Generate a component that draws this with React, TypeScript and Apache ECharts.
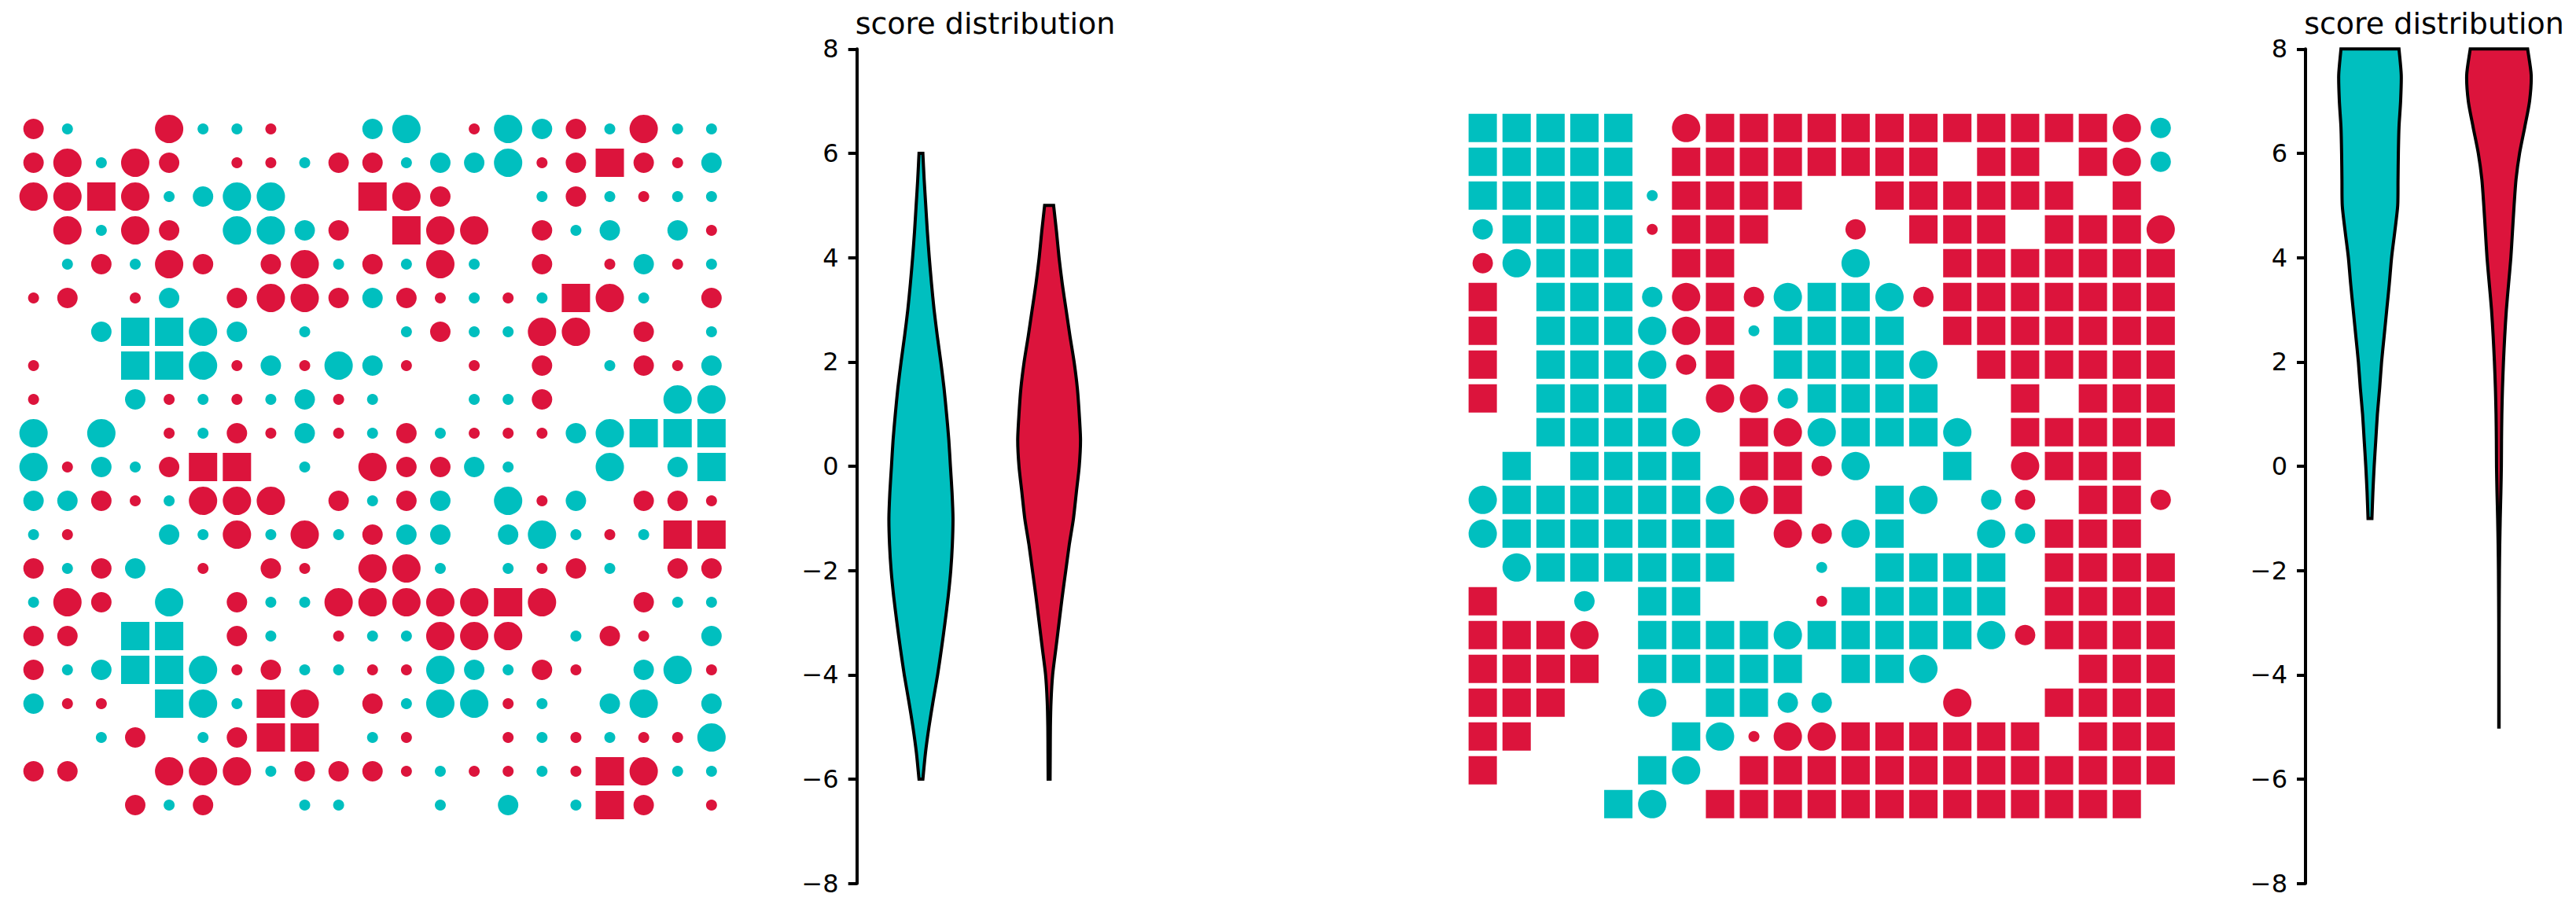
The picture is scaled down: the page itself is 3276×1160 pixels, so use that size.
import React, { useEffect, useRef } from 'react';
import * as echarts from 'echarts';

const TEAL = '#00BFBF';
const CRIMSON = '#DC143C';
const FONT = '"DejaVu Sans", sans-serif';

// Cell codes: '.' empty
// teal:    a = small circle, b = medium circle, c = large circle, T = square
// crimson: x = small circle, y = medium circle, z = large circle, R = square
const leftGrid = [
  'ya..zaax..bc.xcbyazaa',
  'yzazy.xxayyabbcxyRyxb',
  'zzRzabcc..Rzy..ayaxaa',
  '.zazy.ccby.Rzz.yab.bx',
  '.ayazy.yzayaza.y.xbxa',
  'xy.xb.yzzybyxaxaRza.y',
  '..bTTcb.a..ayaazz.y.a',
  'x..TTcxbxcbx.x.y.ayxb',
  'x..bxaxabxa..aay...cc',
  'c.c.xayxbxayaxxxbcTTT',
  'cxbayRR.a.zyyba..c.bT',
  'bbyxazzz.yayb.cxb.yyx',
  'ax..bazazaybb.bcaxaRR',
  'yayb.x.yx.zza.axya.yy',
  'azy.c.yaazzzzzRz..yaa',
  'yy.TT.ya.xaazzz.ayx.b',
  'yabTTcxyaaxxcbayx.bcx',
  'bxx.TcaRz.yaccxa.bc.b',
  '..ay.ayRR.ax..xaxaxxc',
  'yy..zzzayyyxaxxaxRzaa',
  '...yay..aa..a.b.aRy.x',
];

const rightGrid = [
  'TTTTT.zRRRRRRRRRRRRzb',
  'TTTTT.RRRRRRRR.RR.Rzb',
  'TTTTTaRRRR..RRRRRR.R.',
  'bTTTTxRRR..y.RRR.RRRz',
  'ycTTT.RR...c..RRRRRRR',
  'R.TTTbzRycTTcyRRRRRRR',
  'R.TTTczRaTTTT.RRRRRRR',
  'R.TTTcyR.TTTTc.RRRRRR',
  'R.TTTT.zzbTTTT..R.RRR',
  '..TTTTc.RzcTTTc.RRRRR',
  '.T.TTTT.RRyc..T.zRRR.',
  'cTTTTTTczR..Tc.by.RRy',
  'cTTTTTTT.zycT..cbRRR.',
  '.cTTTTTT..a.TTTT.RRRR',
  'R..b.TT...xTTTTT.RRRR',
  'RRRz.TTTTcTTTTTcyRRRR',
  'RRRR.TTTTT.TTc....RRR',
  'RRR..c.TTbb...z..RRRR',
  'RR....TcxzzRRRRRR.RRR',
  'R....Tc.RRRRRRRRRRRRR',
  '....Tc.RRRRRRRRRRRRR.',
];

const tealCodes = 'abcT';
const crimsonCodes = 'xyzR';
const markerSize: Record<string, number> = { a: 14, b: 26, c: 36, T: 36, x: 14, y: 26, z: 36, R: 36 };

// Violin outlines: [score, relative half-width (1 = widest)]
const leftTealViolin = [
  [6, 0.06], [5.5, 0.1], [5, 0.15], [4.5, 0.2], [4, 0.26], [3.5, 0.33], [3, 0.41], [2.5, 0.51],
  [2, 0.62], [1.5, 0.72], [1, 0.8], [0.5, 0.87], [0, 0.92], [-0.5, 0.97], [-1, 1.0], [-1.5, 0.98],
  [-2, 0.93], [-2.5, 0.85], [-3, 0.75], [-3.5, 0.64], [-4, 0.52], [-4.5, 0.38], [-5, 0.25],
  [-5.5, 0.14], [-6, 0.06],
];
const leftCrimsonViolin = [
  [5, 0.14], [4.5, 0.23], [4, 0.31], [3.5, 0.41], [3, 0.53], [2.5, 0.65], [2, 0.78], [1.5, 0.88],
  [1, 0.94], [0.5, 0.98], [0, 0.94], [-0.5, 0.85], [-1, 0.76], [-1.5, 0.63], [-2, 0.52],
  [-2.5, 0.41], [-3, 0.31], [-3.5, 0.21], [-4, 0.11], [-4.5, 0.06], [-5, 0.04], [-5.5, 0.035],
  [-6, 0.03],
];
const rightTealViolin = [
  [8, 0.9], [7.5, 0.97], [7, 0.95], [6.5, 0.9], [6, 0.88], [5.5, 0.87], [5, 0.86], [4.5, 0.77],
  [4, 0.67], [3.5, 0.6], [3, 0.52], [2.5, 0.44], [2, 0.36], [1.5, 0.3], [1, 0.23], [0.5, 0.18],
  [0, 0.13], [-0.5, 0.09], [-1, 0.06],
];
const rightCrimsonViolin = [
  [8, 0.89], [7.5, 1.0], [7, 0.95], [6.5, 0.8], [6, 0.64], [5.5, 0.53], [5, 0.47], [4.5, 0.42],
  [4, 0.37], [3.5, 0.3], [3, 0.23], [2.5, 0.18], [2, 0.14], [1.5, 0.11], [1, 0.09], [0.5, 0.08],
  [0, 0.075], [-0.5, 0.06], [-1, 0.04], [-1.5, 0.025], [-2, 0.015], [-3, 0.006], [-4, 0.005],
  [-5, 0.005],
];

const violinPositions = [1, 2];
const violinMaxHalfWidth = 0.25;
const titleText = 'score distribution';

function cells(rows: string[], codes: string) {
  const out: any[] = [];
  rows.forEach((row, j) => {
    row.split('').forEach((ch, i) => {
      if (codes.includes(ch)) out.push([i, j, ch]);
    });
  });
  return out;
}

function scatterSeries(rows: string[], axisIndex: number) {
  return [
    { codes: tealCodes, color: TEAL },
    { codes: crimsonCodes, color: CRIMSON },
  ].map((g) => ({
    type: 'scatter',
    xAxisIndex: axisIndex,
    yAxisIndex: axisIndex,
    data: cells(rows, g.codes),
    symbol: (v: any) => (v[2] === 'T' || v[2] === 'R' ? 'rect' : 'circle'),
    symbolSize: (v: any) => markerSize[v[2]],
    itemStyle: { color: g.color, opacity: 1 },
    silent: true,
  }));
}

function violinSeries(profile: number[][], pos: number, color: string, axisIndex: number) {
  return {
    type: 'custom',
    xAxisIndex: axisIndex,
    yAxisIndex: axisIndex,
    data: [[pos, 0]],
    silent: true,
    renderItem: (_params: any, api: any) => {
      const left = profile.map(([v, w]) => api.coord([pos - w * violinMaxHalfWidth, v]));
      const right = profile.map(([v, w]) => api.coord([pos + w * violinMaxHalfWidth, v])).reverse();
      // repeat end points so the flat ends keep sharp corners
      const pts = [
        left[0], ...left, left[left.length - 1],
        right[0], ...right, right[right.length - 1],
      ];
      return {
        type: 'polygon',
        shape: { points: pts, smooth: 0.25 },
        style: { fill: color, stroke: '#000', lineWidth: 4, lineJoin: 'miter' },
      };
    },
  };
}

const gridAxisX = (idx: number) => ({ type: 'value', gridIndex: idx, min: -0.5, max: 20.5, show: false });
const gridAxisY = (idx: number) => ({ type: 'value', gridIndex: idx, min: -0.5, max: 20.5, inverse: true, show: false });
const violinAxisX = (idx: number) => ({ type: 'value', gridIndex: idx, min: 0.5, max: 2.5, show: false });
const violinAxisY = (idx: number) => ({
  type: 'value',
  gridIndex: idx,
  min: -8,
  max: 8,
  interval: 2,
  axisLine: { show: true, lineStyle: { color: '#000', width: 4 } },
  axisTick: { show: true, length: 11, lineStyle: { color: '#000', width: 4 } },
  axisLabel: {
    show: true,
    color: '#000',
    fontSize: 32,
    fontFamily: FONT,
    margin: 23,
    showMinLabel: true,
    showMaxLabel: true,
    formatter: (v: number) => (v < 0 ? '\u2212' + Math.abs(v) : String(v)),
  },
  splitLine: { show: false },
});

export default function App() {
  const ref = useRef<HTMLDivElement>(null);
  useEffect(() => {
    if (!ref.current) return;
    const chart = echarts.init(ref.current, null, { renderer: 'svg' });
    const option: any = {
      animation: false,
      backgroundColor: '#ffffff',
      grid: [
        { left: 21.1, top: 142.5, width: 905.3, height: 903, outerBoundsMode: 'none' },
        { left: 1089.7, top: 62.3, width: 326, height: 1061.5, outerBoundsMode: 'none' },
        { left: 1864.1, top: 141.3, width: 905.3, height: 903, outerBoundsMode: 'none' },
        { left: 2932, top: 62.3, width: 328, height: 1061.5, outerBoundsMode: 'none' },
      ],
      xAxis: [gridAxisX(0), violinAxisX(1), gridAxisX(2), violinAxisX(3)],
      yAxis: [gridAxisY(0), violinAxisY(1), gridAxisY(2), violinAxisY(3)],
      series: [
        ...scatterSeries(leftGrid, 0),
        violinSeries(leftTealViolin, violinPositions[0], TEAL, 1),
        violinSeries(leftCrimsonViolin, violinPositions[1], CRIMSON, 1),
        ...scatterSeries(rightGrid, 2),
        violinSeries(rightTealViolin, violinPositions[0], TEAL, 3),
        violinSeries(rightCrimsonViolin, violinPositions[1], CRIMSON, 3),
      ],
      graphic: [
        {
          type: 'text',
          x: 1253,
          y: 30,
          style: { text: titleText, fontSize: 38, fontFamily: FONT, fill: '#000', textAlign: 'center', textVerticalAlign: 'middle' },
        },
        {
          type: 'text',
          x: 3095.5,
          y: 30,
          style: { text: titleText, fontSize: 38, fontFamily: FONT, fill: '#000', textAlign: 'center', textVerticalAlign: 'middle' },
        },
      ],
    };
    chart.setOption(option);
    return () => chart.dispose();
  }, []);
  return (
    <div
      ref={ref}
      style={{ position: 'fixed', left: 0, top: 0, width: 3276, height: 1160, background: '#fff' }}
    />
  );
}
